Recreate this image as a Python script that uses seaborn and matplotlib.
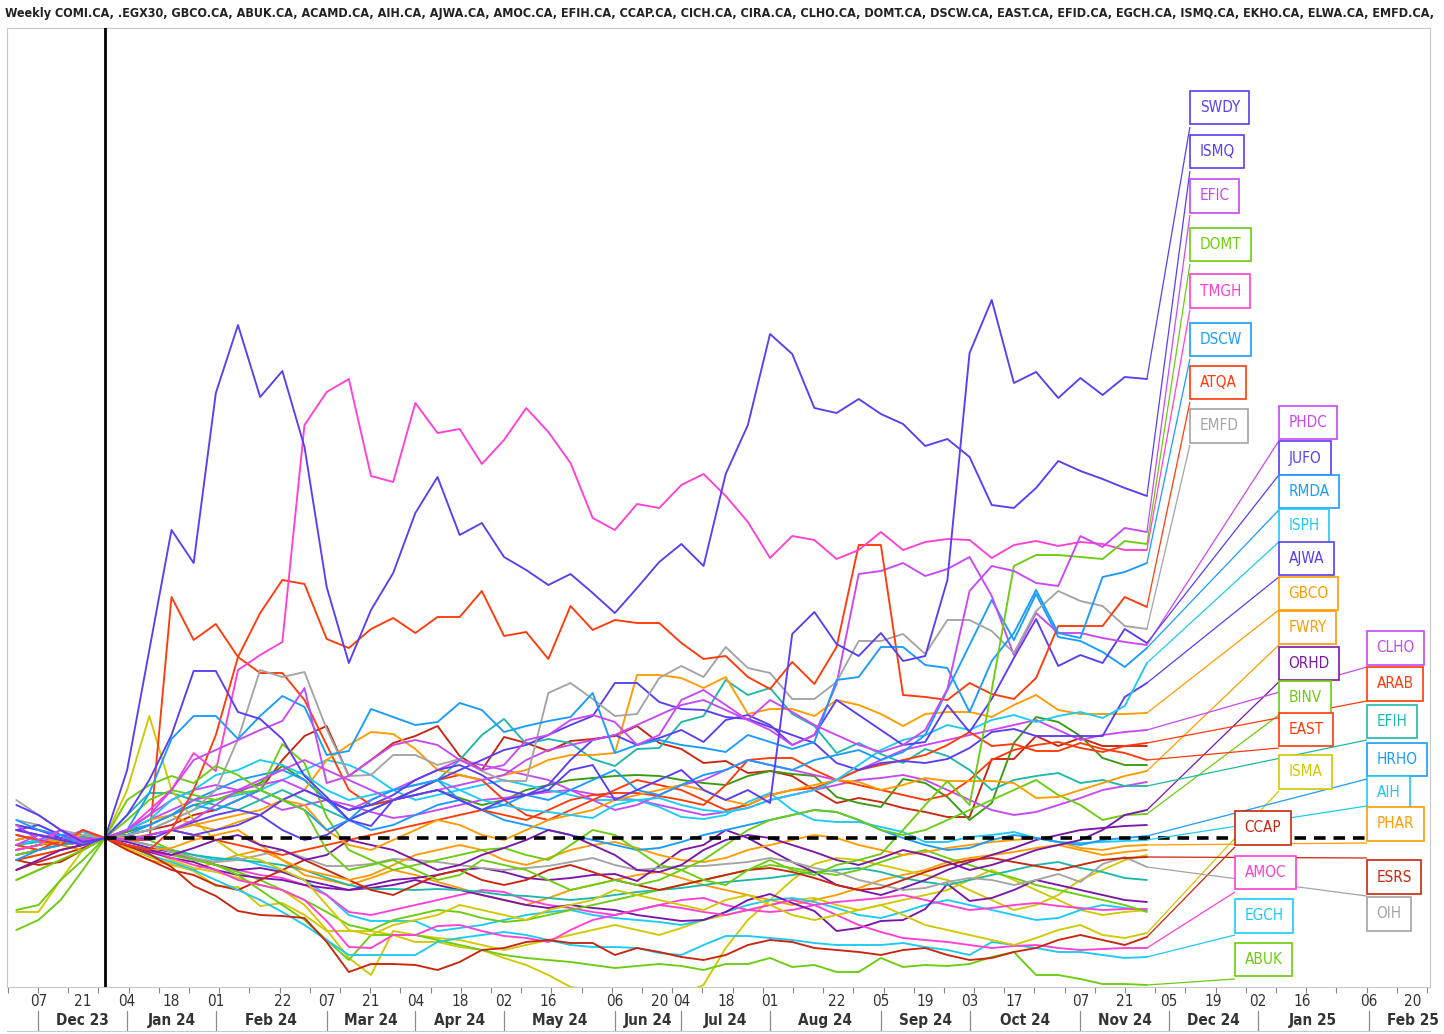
import matplotlib
matplotlib.use("Agg")
import matplotlib.pyplot as plt
import matplotlib.transforms as mtransforms
from matplotlib import font_manager as fm
import numpy as np
import pandas as pd
import seaborn as sns

# ---------------------------------------------------------------------------
# Weekly relative performance, every symbol rebased to 0 at bar 0 (28 Dec 2023)
# bar index = trading week (one Eid week without a bar in late June 2024)
# ---------------------------------------------------------------------------
bars = list(range(-4, 48))

SWDY = [8,3,-2,-7,0, 23,58,103,167,167, 126,119,99,62,41, 18,12,38,43,48, 38,28,38,43,48, 68,73,38,48,58,
        68,48,38,48,35, 204,226,194,182,205, 177,182,258,485,538, 455,466,440,460,443, 461,459]
ISMQ = [33,23,8,-4,0, 68,188,308,275,445, 513,441,467,391,251, 175,228,265,325,361, 303,315,281,268,253,
        264,245,225,250,276, 294,272,364,413,504, 484,430,425,439,424, 414,392,399,381,333, 330,350,377,367,359, 350,342]
EFIC = [13,-2,8,-7,0, 8,23,48,78,88, 98,108,117,150,55, 62,78,93,98,93, 78,68,73,98,103, 118,123,116,93,103,
        138,148,133,118,138, 126,113,103,93,86, 93,108,149,247,272, 267,255,252,302,291, 310,306]
DOMT = [-42,-32,-22,-12,0, 38,53,62,55,72,63,48,38,28,-12, -32,-27,-22,-32,-42,-37,-22,-27,-32,-42,
        -52,-47,-42,-47,-42,-32,-42,-47,-32,-22,-32,-37,-27,-22, -16,8,33,57,33,148,272,283,283,281,279,297,294]
TMGH = [-12,-7,8,-2,0, 8,28,48,85,67, 168,183,196,413,446, 459,362,356,435,405, 409,374,398,430,406, 375,320,
        308,334,330,353,364, 342,316,280,302,298, 279,288,306,288,296, 299,298,280,293,297, 292,296,294,288,288]
DSCW = [18,8,3,-7,0, 8,45,99,122,122, 99,122,142,131,83, 87,129,121,113,116, 135,128,106,112,117, 121,145,85,93,98,
        93,90,86,103,96, 89,96,158,161,191, 191,173,170,126,177, 205,248,205,200,261, 266,275]
ATQA = [3,-2,-7,8,0, -7,-12,8,48,103, 181,225,258,254,199,190,209,220,205,221,221,247,202,206,179,232,208,218,
        215,215,195,179,182,161,149,176,154,191,293,293,143,141,138,155,144,139,160,212,212,212,241,231]
EMFD = [38,23,8,3,0, 3,8,18,28,48, 99,168,161,166,109,62,63,83,83,73,79,67,57,57,145,155,139,122,
        124,160,172,161,191,170,165,139,139,156,197,197,204,184,218,218,207,185,227,247,237,232,212,209]
PHDC = [-7,3,-2,8,0, -2,3,8,18,33,48,58,68,78,68, 58,48,38,43,48,53,58,63,78,88,
        93,98,103,113,123,133,138,128,118,108,93,103, 154,264,267,275,262,269,281,242,183,225,205,205,200,196,193]
JUFO = [8,13,3,-2,0, 3,-2,8,3,8,13,23,38,48,38, 28,33,43,58,68,73,63,48,43,53,
        78,98,103,93,100,108,96,118,123,113, 93,103,138,123,108,93,96,133, 106,139,180,219,172,183,175,209,195]
RMDA = [-22,-12,-7,-2,0, 3,13,23,33,28, 38,48,38,28,8, 18,38,48,53,58, 38,28,33,43,38, 48,58,68,48,43,
        53,63,68,78,73, 68,78,83,88,78, 86,103,148,193,238, 198,244,201,197,186, 171,190]
ISPH = [3,-2,8,-7,0, 8,18,38,48,63, 68,78,73,63,48, 38,43,48,53,58, 48,38,33,28,26, 23,20,33,38,40,
        33,28,26,30,38, 43,48,58,73,88, 98,103,113,108,118, 123,116,122,126,120,132,175]
AJWA = [13,8,0,-7,0, -2,3,8,16,23, 28,23,8,-2,3, 18,28,38,48,58, 68,78,88,93,103, 113,122,155,155,136,
        129,128,121,119,111, 103,95,75,68,75, 77,75,79,90,106, 109,102,102,102,102, 141,155]
GBCO = [-2,3,-4,-2,0, 0,3,8,13,18,23,28,38,48,78, 93,106,104,89,68,63,58,63,68,78, 83,83,85,
        163,163,160,150,161,124,129,129,122,138,133,124,112,124,126,126,121,133,143,128,124,124,124,125]
FWRY = [-12,-7,-2,3,0, 8,18,23,13,8,16,23,38,33,8, -7,-12,-2,8,18,13,3,-2,8,18,
        23,28,38,43,48,53,48,38,33,43, 48,53,58,56,48,53, 60,57,57,57,55,40,41,48,55,62,67]
ORHD = [-32,-22,-12,-7,0, -7,-12,-17,-10,-2,3,-7,-12,-22,-17, -2,-7,-12,-22,-32,-27,-17,-10,-2,8,
        3,-7,-17,-32,-34,-27,-12,-2,3,0, -7,-14,-22,-27,-20,-12,-17,-24,-32,-27, -20,-12,-7,-2,8,23,28]
BINV = [-72,-67,-42,-22,0, 18,38,48,43,38,45,48,94,75,21, -12,-22,-32,-27,-22,-17,-12,-10,-17,-22,
        -7,8,3,-12,-27,-32,-22,-7,8,18, 23,28,26,18,8,3,8,18,28,38, 48,58,43,33,18,23,24]
EAST = [-7,-12,-2,3,0, -2,-2,241,198,214, 181,165,165,138,93, 48,33,38,48,58, 63,58,38,23,18,
        28,38,48,58,53, 48,38,28,33,43, 48,50,58,68,73, 78,83,93,106,92, 94,87,87,95,89, 85,78]
ISMA = [-74,-74,-42,-12,0, 48,122,48,18,-2, -17,-22,-32,-42,-67, -92,-97,-87,-82,-77, -67,-72,-77,-82,-72,
        -67,-62,-52,-57,-62, -67,-72,-62,-57,-67, -77,-82,-77,-72,-67, -77,-87,-92,-97,-102,
        -107,-100,-92,-87,-97, -100,-95]
CCAP = [-22,-27,-24,-12,0, -8,-16,-29,-48,-58, -73,-77,-78,-80,-104, -134,-126,-126,-127,-132,
        -124,-112,-110,-104,-102, -105,-105,-117,-110,-114, -119,-122,-117,-107,-102,
        -104,-110,-112,-114,-117, -112,-110,-117,-122,-120, -114,-110,-102,-97,-102, -107,-99]
AMOC = [8,3,-2,-7,0, -7,-12,-20,-27,-32, -42,-47,-52,-62,-83, -109,-110,-97,-97,-88, -87,-93,-98,-100,-104,
        -92,-82,-77,-72,-67, -70,-74,-77,-72,-67, -62,-67,-77,-87,-94, -100,-102,-104,-107,-110,
        -108,-107,-110,-112,-111, -110,-110]
EGCH = [-7,-2,3,6,0, -7,-17,-24,-32,-42, -52,-62,-74,-87,-102, -117,-117,-117,-117,-104, -100,-97,-94,-97,-102,
        -107,-109,-109,-110,-115, -117,-107,-98,-98,-100, -102,-105,-107,-107,-107,
        -105,-109,-112,-117,-104, -107,-110,-114,-114,-117, -120,-119]
ABUK = [-17,-12,-7,-4,0, -7,-12,-17,-22,-27, -37,-52,-67,-82,-102, -122,-97,-97,-97,-102,
        -107,-112,-117,-120,-122, -124,-127,-130,-128,-126, -128,-132,-126,-126,-120,
        -129,-127,-134,-134,-120, -129,-127,-128,-126,-119, -114,-137,-137,-141,-146, -146,-147]
CLHO = [8,3,-2,-4,0, 8,18,28,38,43, 48,53,58,48,38, 28,38,48,58,68, 78,73,68,63,58, 48,38,28,33,43,
        53,58,68,78,73, 68,63,58,68,78, 88,93,98,103,108, 113,118,108,98,103, 106,108]
ARAB = [-22,-17,-12,-7,0, -2,3,8,3,-2, -7,-12,-17,-12,-7, -2,3,8,13,18, 23,28,23,18,28, 38,43,45,45,42,
        38,33,53,78,80, 80,68,58,53,48, 43,38,43,58,78, 88,93,96,90,86, 92,95]
EFIH = [-7,-2,3,-7,0, 23,45,45,38,33,28,38,48,38,28, 18,28,38,48,58,78,103, 119,94,99,95,79,
        72,89,90,116,122,158,143,150,124,112,85,95,84,75,89,82,68,48,58,62,65,55,58,52,52]
HRHO = [-12,-7,-2,2,0, 8,13,23,38,48, 58,63,68,58,38, 18,8,13,23,33, 38,28,18,13,8, 3,-2,-7,-12,-10,
        -4,3,8,13,18, 23,28,26,18,8, 0,-7,-12,-10,-2, 3,0,-4,-7,-2, 0,2]
AIH = [-7,-2,-7,-4,0, 3,8,18,28,38,43,48,58,68,78, 73,63,48,38,43,48,53,58,53,48,43,38,
       38,38,31,21,19,23,36,45,28,18,16,16,11,6,-4,-4,1, 3,6,0,-4,-5,-4,-3,-2]
PHAR = [8,3,-7,-12,0, -7,-12,-10,-2,3, 8,-7,-22,-32,-37, -42,-37,-27,-17,-12, -7,-12,-22,-27,-20,
        -12,-7,-4,-10,-17, -22,-24,-20,-12,-7, -2,3,0,-7,-12, -17,-14,-10,-7,-4, -2,0,-4,-10,-12, -8,-7]
ESRS = [-32,-24,-17,-10,0, -12,-22,-32,-37,-47, -52,-42,-32,-22,-32, -42,-52,-57,-47,-37, -32,-42,-47,-42,-32,
        -27,-34,-42,-47,-52, -47,-42,-37,-32,-30, -34,-40,-47,-52,-50, -42,-34,-27,-22,-20,
        -24,-28,-32,-27,-22, -20,-19]
OIH = [18,13,3,-4,0, -2,-7,-14,-20,-24, -22,-17,-12,-20,-28, -28,-26,-21,-22,-24, -27,-30,-32,-30,-28,
       -24,-20,-27,-32,-30, -28,-28,-26,-24,-20, -24,-30,-34,-42,-47, -52,-50,-44,-40,-42,
       -47,-42,-36,-44,-26, -19,-29]
# symbols without an end label
CIRA = [-12,-7,-4,-2,0, 3,8,13,23,28,38,48,78, 102,112,62,78, 95,102,112,82,68,101,95,87,97,99,
        102,112,95,89,75,77,65,67,62,48,35,40,36,30,26,21,21,79,79,102,92,100,92,92,92]
COMI = [-12,-7,-2,2,0, 6,13,23,33,38,46,55,72,58,38, 28,33,38,43,48,40,33,38,48,53,58,60,
        62,63,62,58,55,53,62,67,64,62,41,35,31,59,55,41,18,35,95,121,116,102,80,73,73]
EFID = [-7,-12,-2,6,0, -12,-22,-27,-32,-24, -17,-12,-22,-37,-42, -47,-40,-32,-37,-44, -50,-57,-62,-67,-60,
        -52,-47,-42,-37,-34, -40,-47,-52,-57,-62, -67,-62,-57,-50,-42, -37,-32,-24,-20,-17,
        -14,-10,-7,-12,-17, -14,-12]
EKHO = [-42,-32,-22,-12,0, -10,-19,-26,-33,-48, -49,-68,-65,-77,-93, -93,-93,-97,-104,-104,
        -109,-112,-120,-127,-137, -149,-152,-154,-155,-157, -156,-147,-110,-82,-62,
        -42,-26,-20,-22,-27, -32,-37,-42,-52,-62, -72,-67,-57,-42,-32, -22,-17]
ELWA = [-22,-17,-12,-7,0, -7,-12,-22,-30,-34, -40,-47,-52,-67,-92, -120,-137,-93,-97,-100,
        -102,-107,-112,-107,-102, -97,-92,-87,-92,-97, -90,-82,-77,-72,-67, -62,-60,-67,-72,-67,
        -62,-57,-52,-42,-32, -42,-52,-62,-72,-77, -74,-72]
ACAMD = [-12,-7,-2,-4,0, -2,-7,-12,-17,-22, -20,-27,-32,-42,-57, -77,-83,-83,-83,-93, -90,-87,-82,-77,-74,
         -72,-77,-80,-82,-84, -87,-82,-74,-67,-62, -60,-64,-70,-77,-80, -74,-67,-62,-67,-72,
         -77,-82,-80,-72,-67, -70,-72]
CICH = [3,-2,-7,-4,0, -7,-12,-17,-20,-27, -32,-37,-40,-47,-57, -74,-77,-72,-67,-62, -57,-52,-54,-62,-67,
        -70,-74,-77,-72,-67, -62,-60,-67,-72,-74, -72,-67,-64,-62,-60, -57,-62,-67,-72,-70,
        -67,-65,-68,-70,-72, -71,-71]
EGX30 = [-17,-12,-7,-4,0, -4,-10,-14,-20,-27, -32,-30,-34,-42,-47, -52,-50,-47,-42,-47, -52,-57,-62,-67,-70,
         -67,-70,-72,-77,-80, -83,-82,-74,-62,-56, -65,-73,-93,-90,-83, -82,-71,-46,-63,-60,
         -52,-42,-47,-52,-57, -62,-64]
MFPC = [-7,-4,-2,0,0, -2,-7,-12,-17,-20, -22,-24,-27,-32,-40, -47,-51,-51,-52,-51, -52,-54,-57,-58,-60,
        -62,-60,-57,-54,-52, -50,-47,-44,-42,-40, -37,-34,-32,-30,-34, -40,-44,-47,-42,-37,
        -32,-27,-24,-30,-34, -40,-42]
SKPC = [-92,-82,-62,-32,0, 3,-2,-12,-20,-27, -34,-42,-52,-62,-74, -87,-92,-82,-77,-72, -74,-80,-84,-82,-77,
        -72,-67,-62,-57,-52, -47,-42,-37,-32,-27, -30,-34,-37,-32,-24, -17,-12,-20,-27,-34,
        -40,-47,-52,-57,-62, -67,-74]
HELI = [-2,3,0,-4,0, -7,-14,-20,-24,-32, -37,-40,-42,-47,-50, -52,-47,-42,-40,-37, -32,-30,-34,-40,-42,
        -40,-37,-36,-43,-28, -12,-7,8,0,-12, -24,-34,-47,-52,-57, -50,-42,-32,-24,-17,
        -10,-2,3,8,10, 12,13]
ORWE = [13,8,3,-2,0, 8,23,38,48,53, 48,38,28,33,38, 33,26,20,23,28, 33,38,40,43,46, 48,44,40,38,33,
        28,23,26,30,38, 43,48,53,58,60, 63,58,48,38,28, 23,26,33,40,48, 52,56]

# axis text
day_ticks = [-3, -1, 1, 3, 5, 8, 10, 12, 14, 16, 18, 20, 23, 25, 26, 28, 30, 33, 35, 37, 39, 41,
             44, 46, 48, 50, 52, 54, 57, 59]
day_labels = ["07", "21", "04", "18", "01", "22", "07", "21", "04", "18", "02", "16", "06", "20", "04",
              "18", "01", "22", "05", "19", "03", "17", "07", "21", "05", "19", "02", "16", "06", "20"]
month_starts = [-3, 1, 5, 10, 14, 18, 23, 26, 30, 35, 39, 44, 48, 52, 57, 61]
month_labels = ["Dec 23", "Jan 24", "Feb 24", "Mar 24", "Apr 24", "May 24", "Jun 24", "Jul 24",
                "Aug 24", "Sep 24", "Oct 24", "Nov 24", "Dec 24", "Jan 25", "Feb 25"]
title_symbols = ["COMI.CA", ".EGX30", "GBCO.CA", "ABUK.CA", "ACAMD.CA", "AIH.CA", "AJWA.CA", "AMOC.CA",
                 "EFIH.CA", "CCAP.CA", "CICH.CA", "CIRA.CA", "CLHO.CA", "DOMT.CA", "DSCW.CA", "EAST.CA",
                 "EFID.CA", "EGCH.CA", "ISMQ.CA", "EKHO.CA", "ELWA.CA", "EMFD.CA"]

# ---------------------------------------------------------------------------
series = {
    "CIRA": CIRA, "COMI": COMI, "EFID": EFID, "EKHO": EKHO, "ELWA": ELWA, "ACAMD": ACAMD, "CICH": CICH,
    "EGX30": EGX30, "MFPC": MFPC, "SKPC": SKPC, "HELI": HELI, "ORWE": ORWE,
    "OIH": OIH, "ESRS": ESRS, "PHAR": PHAR, "AIH": AIH, "HRHO": HRHO, "EFIH": EFIH, "ARAB": ARAB,
    "CLHO": CLHO, "ABUK": ABUK, "EGCH": EGCH, "AMOC": AMOC, "CCAP": CCAP, "ISMA": ISMA, "EAST": EAST,
    "BINV": BINV, "ORHD": ORHD, "FWRY": FWRY, "GBCO": GBCO, "AJWA": AJWA, "ISPH": ISPH, "RMDA": RMDA,
    "JUFO": JUFO, "PHDC": PHDC, "EMFD": EMFD, "ATQA": ATQA, "DSCW": DSCW, "TMGH": TMGH, "DOMT": DOMT,
    "EFIC": EFIC, "ISMQ": ISMQ, "SWDY": SWDY,
}
VIOLET, PURPLE, PINK, GREEN, BLUE = "#5b3df5", "#c848f5", "#ff40d4", "#6ccc10", "#1a9cff"
CYAN, RED, DKRED, GRAY, ORANGE = "#1ccbf5", "#ff3b0a", "#c8260e", "#a4a4a4", "#ff9c00"
DKPURPLE, YELLOW, TEAL, DKGREEN = "#7a16a8", "#d2c800", "#1fb8a8", "#3a9a10"
colors = {
    "SWDY": VIOLET, "ISMQ": VIOLET, "JUFO": VIOLET, "AJWA": VIOLET,
    "EFIC": PURPLE, "PHDC": PURPLE, "CLHO": PURPLE, "ORWE": PURPLE,
    "TMGH": PINK, "AMOC": PINK, "CICH": PINK,
    "DOMT": GREEN, "BINV": GREEN, "ABUK": GREEN, "SKPC": GREEN,
    "DSCW": BLUE, "RMDA": BLUE, "HRHO": BLUE,
    "ISPH": CYAN, "EGCH": CYAN, "AIH": CYAN, "ACAMD": CYAN,
    "ATQA": RED, "EAST": RED, "ARAB": RED,
    "CCAP": DKRED, "ESRS": DKRED, "CIRA": DKRED,
    "EMFD": GRAY, "OIH": GRAY,
    "GBCO": ORANGE, "FWRY": ORANGE, "PHAR": ORANGE, "EFID": ORANGE,
    "ORHD": DKPURPLE, "EGX30": DKPURPLE, "HELI": DKPURPLE,
    "ISMA": YELLOW, "EKHO": YELLOW, "ELWA": YELLOW,
    "EFIH": TEAL, "MFPC": TEAL, "COMI": DKGREEN,
}
# end-label boxes: (symbol, column bar position, box top, box bottom) in data units
label_boxes = [
    ("SWDY", 48.94, 750, 711), ("ISMQ", 48.94, 706, 667), ("EFIC", 48.94, 661, 623),
    ("DOMT", 48.94, 613, 574), ("TMGH", 48.94, 566, 528), ("DSCW", 48.94, 518, 479),
    ("ATQA", 48.94, 475, 436), ("EMFD", 48.94, 431, 393),
    ("PHDC", 52.95, 434, 397), ("JUFO", 52.95, 397, 363), ("RMDA", 52.95, 365, 328),
    ("ISPH", 52.95, 328, 296), ("AJWA", 52.95, 298, 261), ("GBCO", 52.95, 261, 228),
    ("FWRY", 52.95, 228, 193), ("ORHD", 52.95, 193, 156), ("BINV", 52.95, 158, 123),
    ("EAST", 52.95, 127, 90), ("ISMA", 52.95, 85, 47),
    ("CCAP", 50.97, 29, -9), ("AMOC", 50.97, -15, -54), ("EGCH", 50.97, -59, -97),
    ("ABUK", 50.97, -102, -141),
    ("CLHO", 56.92, 209, 171), ("ARAB", 56.92, 171, 137), ("EFIH", 56.92, 135, 98),
    ("HRHO", 56.92, 98, 59), ("AIH", 56.92, 59, 32), ("PHAR", 56.92, 33, -5),
    ("ESRS", 56.92, -20, -58), ("OIH", 56.92, -58, -94),
]

for name, vals in series.items():
    if len(vals) != len(bars):
        raise ValueError(f"{name}: {len(vals)} values")

rows = [(sym, b, v) for sym, vals in series.items() for b, v in zip(bars, vals)]
df = pd.DataFrame(rows, columns=["symbol", "bar", "perf"])

# ---------------------------------------------------------------------------
sns.set_theme(style="white")
plt.rcParams["font.family"] = ["Liberation Sans", "DejaVu Sans"]


def find_narrow(bold):
    """Look for an installed condensed / narrow sans font file."""
    best = None
    for f in fm.fontManager.ttflist:
        fn = f.fname.replace("\\", "/").split("/")[-1]
        low = fn.lower()
        if not any(k in low for k in ("narrow", "condensed")):
            continue
        if any(k in low for k in ("mono", "serif", "italic", "oblique", "semicondensed", "extracondensed",
                                  "light", "thin", "medium", "black", "semibold", "extrabold")):
            continue
        isbold = "bold" in low
        if isbold != bold:
            continue
        rank = 0 if "liberation" in low else (1 if "dejavu" in low else 2)
        if best is None or rank < best[0]:
            best = (rank, f.fname)
    return best[1] if best else None


reg_file, bold_file = find_narrow(False), find_narrow(True)


def fprop(size, bold=False):
    path = bold_file if bold else reg_file
    if path:
        return fm.FontProperties(fname=path, size=size)
    return fm.FontProperties(family=["Liberation Sans", "DejaVu Sans"], size=size * 0.93,
                             weight="bold" if bold else "normal")


W, H = 1444, 1034
fig = plt.figure(figsize=(W / 100, H / 100), dpi=100)
fig.patch.set_facecolor("white")
ax = fig.add_axes([7 / W, 47 / H, 1423 / W, 959 / H])
ax.set_facecolor("white")

sns.lineplot(data=df, x="bar", y="perf", hue="symbol", palette=colors, hue_order=list(series.keys()),
             legend=False, linewidth=1.35, estimator=None, sort=False, ax=ax, zorder=2)

ax.set_xlim(-4.42, 59.77)
ax.set_ylim(-149, 810)
ax.axvline(0, color="black", lw=2.0, zorder=3)
ax.plot([0, 59.77], [0, 0], color="black", lw=2.6, ls=(0, (3.2, 2.2)), zorder=3)

# leader lines and end-label boxes
for sym, xcol, top, bot in label_boxes:
    last = series[sym][-1]
    ax.plot([bars[-1], xcol], [last, float(np.clip(last, bot, top))], color=colors[sym], lw=0.9,
            zorder=4, solid_capstyle="butt")
lab_fp = fprop(11)
for sym, xcol, top, bot in label_boxes:
    col = colors[sym]
    tr = mtransforms.offset_copy(ax.transData, fig=fig, x=7.0, y=0, units="points")
    ax.text(xcol, (top + bot) / 2, sym, transform=tr, ha="left", va="center", color=col,
            fontproperties=lab_fp, zorder=6,
            bbox=dict(boxstyle="square,pad=0.62", fc="white", ec=col, lw=1.2))

# x axis: day numbers, month bands
ax.set_xticks(day_ticks)
ax.set_xticklabels(day_labels, color="#333333")
for t in ax.get_xticklabels():
    t.set_fontproperties(fprop(11))
ax.tick_params(axis="x", which="major", length=0, pad=5)
ax.set_xticks(np.arange(-4.38, 59.8, 1.362), minor=True)
ax.tick_params(axis="x", which="minor", length=4, width=0.8, color="#888888", direction="out", bottom=True)
ax.set_yticks([])
ax.set_xlabel("")
ax.set_ylabel("")

btr = mtransforms.blended_transform_factory(ax.transData, ax.transAxes)
for m in month_starts[:-1]:
    ax.plot([m, m], [-0.025, -0.046], transform=btr, clip_on=False, color="#8a8a8a", lw=0.9)
mon_fp = fprop(11, bold=True)
for k, lab in enumerate(month_labels):
    c = (month_starts[k] + month_starts[k + 1]) / 2
    ax.text(c, -0.035, lab, transform=btr, ha="center", va="center", fontproperties=mon_fp,
            color="#333333", clip_on=False)

for side in ["top", "right", "left", "bottom"]:
    ax.spines[side].set_color("#c8c8c8")
    ax.spines[side].set_linewidth(0.8)

fig.add_artist(plt.Line2D([7 / W, 1430 / W], [1 - 1031 / H, 1 - 1031 / H], color="#c8c8c8", lw=0.8))

title = "Weekly " + ", ".join(title_symbols) + ","
tfp = fprop(11, bold=True)
ttl = fig.text(5 / W, 1 - 13 / H, title, ha="left", va="center", fontproperties=tfp, color="#222222")
# make the title span the width of the chart as in the source
fig.canvas.draw()
wpx = ttl.get_window_extent(renderer=fig.canvas.get_renderer()).width
tfp.set_size(tfp.get_size() * 1420.0 / wpx)
ttl.set_fontproperties(tfp)

fig.savefig("out.png", dpi=100, facecolor="white")
